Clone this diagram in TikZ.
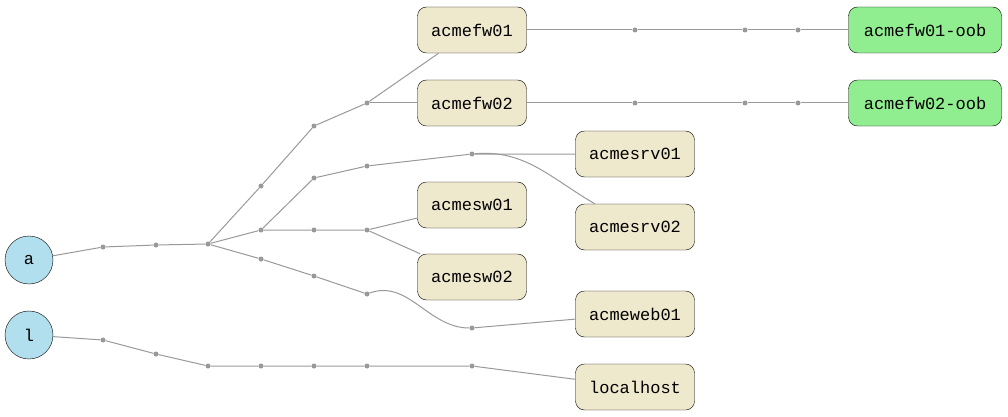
\documentclass[tikz,border=0pt]{standalone}
\usepackage{fontspec}
\setmainfont{Liberation Mono}
\begin{document}
\begin{tikzpicture}[x=1pt,y=-1pt,
  e/.style={draw=black!40,line width=1pt},
  dot/.style={circle,fill=black!40,inner sep=0pt,minimum size=5pt},
  host/.style={draw,rounded corners=9pt,fill=beige,minimum width=109pt,minimum height=46pt,font=\fontsize{17}{17}\selectfont},
  oob/.style={host,fill=lgreen,minimum width=153pt},
  root/.style={draw,circle,fill=lblue,minimum size=48pt,inner sep=0pt,font=\fontsize{17}{17}\selectfont}]
\definecolor{beige}{HTML}{EEE8CD}
\definecolor{lgreen}{HTML}{90EE90}
\definecolor{lblue}{HTML}{B2DFEE}
\useasboundingbox (0,0) rectangle (1008,417);
\node[root] (a) at (29,260) {a};
\node[root] (l) at (29,335) {l};
\node[host] (fw1) at (472,30) {acmefw01};
\node[host] (fw2) at (472,103) {acmefw02};
\node[host,minimum width=119pt] (srv1) at (635,154) {acmesrv01};
\node[host,minimum width=119pt] (srv2) at (635,227) {acmesrv02};
\node[host] (sw1) at (472,205) {acmesw01};
\node[host] (sw2) at (472,277) {acmesw02};
\node[host,minimum width=119pt] (web) at (635,314) {acmeweb01};
\node[host,minimum width=119pt] (lh) at (635,387) {localhost};
\node[oob] (o1) at (925,30) {acmefw01-oob};
\node[oob] (o2) at (925,103) {acmefw02-oob};
\foreach \n/\x/\y in {p1/103/247,p2/156/245,h/208/244,f1/261/186,f2/314/126,f3/367/103,
  s0/261/230,s1/314/178,s2/367/166,s3/472/154,w1/314/230,w2/367/230,
  b1/261/259,b2/314/276,b3/367/294,b4/472/328,
  a1/635/30,a2/745/30,a3/798/30,c1/635/103,c2/745/103,c3/798/103,
  l1/103/340,l2/156/354,l3/208/366,l4/261/366,l5/314/366,l6/367/366,l7/472/366}
  \node[dot] (\n) at (\x,\y) {};
\draw[e] (a)--(p1)--(p2)--(h);
\draw[e] (h)--(f1)--(f2)--(f3)--(fw1);
\draw[e] (f3)--(fw2);
\draw[e] (h)--(s0)--(s1)--(s2)--(s3)--(srv1);
\draw[e] (s3) to[out=5,in=150] (srv2);
\draw[e] (s0)--(w1)--(w2)--(sw1);
\draw[e] (w2)--(sw2);
\draw[e] (h)--(b1)--(b2)--(b3) to[out=20,in=180] (b4)--(web);
\draw[e] (fw1)--(a1)--(a2)--(a3)--(o1);
\draw[e] (fw2)--(c1)--(c2)--(c3)--(o2);
\draw[e] (l)--(l1)--(l2)--(l3)--(l4)--(l5)--(l6)--(l7)--(lh);
\end{tikzpicture}
\end{document}
